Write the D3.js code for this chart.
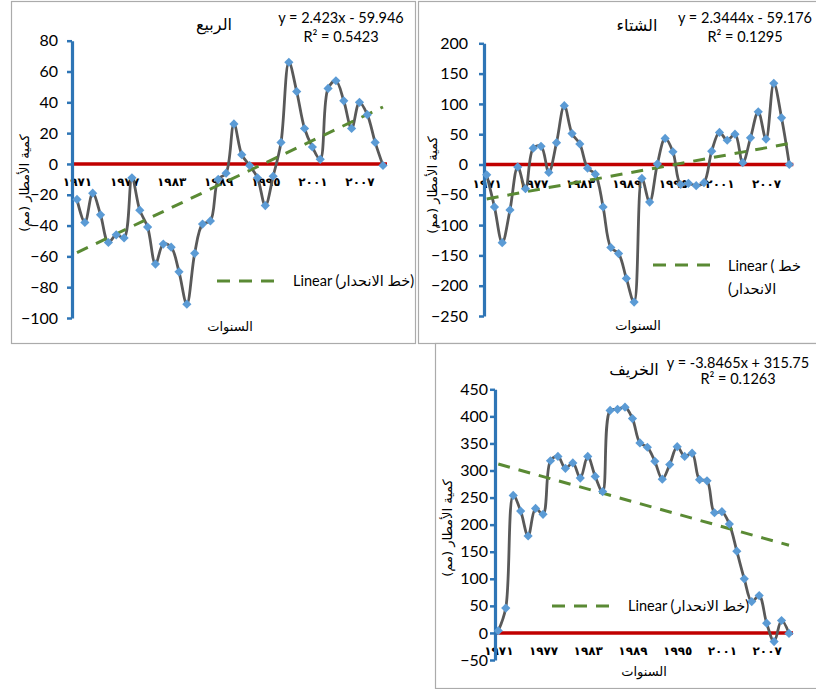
<!DOCTYPE html>
<html>
<head>
<meta charset="utf-8">
<script src="https://cdn.jsdelivr.net/npm/d3@7/dist/d3.min.js"></script>
<style>
  html, body { margin: 0; padding: 0; background: #fff; }
  svg { display: block; font-family: Lato, "DejaVu Sans", sans-serif; }
</style>
</head>
<body>
<svg id="chart" width="816" height="689"></svg>
<script>
// Years of record (x categories)
const years = [1971,1972,1973,1974,1975,1976,1977,1978,1979,1980,
               1981,1982,1983,1984,1985,1986,1987,1988,1989,1990,
               1991,1992,1993,1994,1995,1996,1997,1998,1999,2000,
               2001,2002,2003,2004,2005,2006,2007,2008,2009,2010];

// Rainfall anomaly per season (mm)
const springValues = [-23,-38,-19,-33,-51,-46,-48,-9,-30,-41,
                      -65,-52,-54,-70,-91,-58,-39,-37,-10,-6,
                      26,6,-1,-9,-27,-8,14,66,47,23,
                      11,3,49,54,41,23,40,32,14,-1];
const winterValues = [-17,-70,-129,-75,-4,-40,27,30,-13,36,
                      97,51,34,-6,-16,-70,-137,-147,-188,-227,
                      -23,-62,1,43,21,-33,-31,-35,-30,22,
                      53,40,50,3,44,87,42,134,77,0];
const autumnValues = [4,46,254,225,179,230,219,318,326,304,
                      314,286,326,289,261,411,413,417,396,351,
                      343,317,284,311,344,326,332,283,281,222,
                      224,201,151,100,58,69,18,-16,23,-1];

// Linear trend: [slope, intercept, R²]
const springTrend = [2.423, -59.946, 0.5423];
const winterTrend = [2.3444, -59.176, 0.1295];
const autumnTrend = [-3.8465, 315.75, 0.1263];

// Axis ticks
const springTicks = [-100,-80,-60,-40,-20,0,20,40,60,80];
const winterTicks = [-250,-200,-150,-100,-50,0,50,100,150,200];
const autumnTicks = [-50,0,50,100,150,200,250,300,350,400,450];
const xTickYears  = [1971,1977,1983,1989,1995,2001,2007];
const xTickLabels = ["١٩٧١","١٩٧٧","١٩٨٣","١٩٨٩","١٩٩٥","٢٠٠١","٢٠٠٧"];

// Text
const seasonTitles = ["الربيع","الشتاء","الخريف"];
const yTitle = "كمية الأمطار (مم)";
const xTitle = "السنوات";

const C = {
  line: "#595959", marker: "#5B9BD5", zero: "#C00000",
  axis: "#2E75B6", trend: "#5A8A34", frame: "#ABABAB", text: "#000"
};

const panels = [
  { values: springValues, trend: springTrend, ticks: springTicks, title: seasonTitles[0],
    frame: [11, 1, 404, 342], x0: 77, x1: 383, yRange: [318, 40.7], axisX: 72, tickPad: 9,
    xLabelY: 186, titleAt: [214, 30], eqAt: [341, 23, 41.5], xTitleAt: [230, 331], yTitleAt: [24, 183],
    legend: { x0: 217, x1: 275, y: 281, tx: 293, lines: [[0, "Linear (خط الانحدار)"]] } },
  { values: winterValues, trend: winterTrend, ticks: winterTicks, title: seasonTitles[1],
    frame: [418, 1, 400, 342], x0: 486.7, x1: 789.3, yRange: [316, 43.3], axisX: 484, tickPad: 11,
    xLabelY: 188, titleAt: [637, 31], eqAt: [745, 23, 41.5], xTitleAt: [638, 330], yTitleAt: [432, 185],
    legend: { x0: 653, x1: 710, y: 265, tx: 728, lines: [[271, "Linear ( خط"], [294, "(الانحدار"]] } },
  { values: autumnValues, trend: autumnTrend, ticks: autumnTicks, title: seasonTitles[2],
    frame: [435, 343, 383, 345], x0: 498.3, x1: 789, yRange: [660, 389.3], axisX: 495, tickPad: 2,
    xLabelY: 655, titleAt: [634, 375], eqAt: [738, 367.5, 384], xTitleAt: [644, 676], yTitleAt: [447, 528],
    legend: { x0: 552, x1: 610, y: 606, tx: 628, lines: [[0, "Linear (خط الانحدار)"]] } }
];

const svg = d3.select("#chart");
const diamond = r => `M0,${-r}L${r},0L0,${r}L${-r},0Z`;

function fmtEq(t) {
  const sign = t[1] < 0 ? " - " : " + ";
  return `y = ${t[0]}x${sign}${Math.abs(t[1])}`;
}

panels.forEach(p => {
  const g = svg.append("g");
  const n = p.values.length;
  const x = d3.scaleLinear().domain([1, n]).range([p.x0, p.x1]);
  const xYear = d3.scaleLinear().domain([years[0], years[n - 1]]).range([p.x0, p.x1]);
  const yMin = d3.min(p.ticks), yMax = d3.max(p.ticks);
  const y = d3.scaleLinear().domain([yMin, yMax]).range(p.yRange);

  // Chart frame
  g.append("rect")
    .attr("x", p.frame[0] + 0.5).attr("y", p.frame[1] + 0.5)
    .attr("width", p.frame[2]).attr("height", p.frame[3])
    .attr("fill", "#fff").attr("stroke", C.frame).attr("stroke-width", 1.2);

  // Category labels, placed just under the zero line
  const xAxis = d3.axisBottom(xYear).tickValues(xTickYears)
    .tickFormat((d, i) => xTickLabels[i]).tickSize(0).tickPadding(0);
  const xg = g.append("g").attr("transform", `translate(0,${p.xLabelY})`).call(xAxis);
  xg.select(".domain").remove();
  xg.selectAll("text")
    .attr("dy", 0)
    .attr("font-family", "'DejaVu Sans', sans-serif")
    .attr("font-size", 12).attr("font-weight", "bold").attr("fill", C.text);

  // Zero reference line
  g.append("line")
    .attr("x1", p.axisX).attr("x2", p.x1 + 4)
    .attr("y1", y(0)).attr("y2", y(0))
    .attr("stroke", C.zero).attr("stroke-width", 3.5);

  // Value axis
  const yAxis = d3.axisLeft(y).tickValues(p.ticks).tickSize(5).tickSizeOuter(0).tickPadding(p.tickPad);
  const yg = g.append("g").attr("transform", `translate(${p.axisX},0)`).call(yAxis);
  yg.select(".domain").attr("stroke", C.axis).attr("stroke-width", 3.2);
  yg.selectAll(".tick line").attr("stroke", C.axis).attr("stroke-width", 2.5);
  yg.selectAll(".tick text").attr("font-family", "Lato, sans-serif")
    .attr("font-size", 16).attr("fill", C.text);

  // Smoothed series line
  const pts = p.values.map((v, i) => [i + 1, v]);
  g.append("path").datum(pts)
    .attr("d", d3.line().x(d => x(d[0])).y(d => y(d[1])).curve(d3.curveCatmullRom.alpha(0.5)))
    .attr("fill", "none").attr("stroke", C.line).attr("stroke-width", 2.8);

  // Linear trend line
  const tr = [1, n].map(i => [i, p.trend[0] * i + p.trend[1]]);
  g.append("path").datum(tr)
    .attr("d", d3.line().x(d => x(d[0])).y(d => y(d[1])))
    .attr("fill", "none").attr("stroke", C.trend).attr("stroke-width", 3)
    .attr("stroke-dasharray", "12,9");

  // Markers
  g.selectAll("path.mk").data(pts).enter().append("path")
    .attr("class", "mk")
    .attr("transform", d => `translate(${x(d[0])},${y(d[1])})`)
    .attr("d", diamond(4.6)).attr("fill", C.marker);

  // Season title
  g.append("text").attr("x", p.titleAt[0]).attr("y", p.titleAt[1])
    .attr("text-anchor", "middle").attr("direction", "rtl")
    .attr("font-family", "'DejaVu Sans', sans-serif").attr("font-size", 16)
    .attr("fill", C.text).text(p.title);

  // Trend equation and R²
  g.append("text").attr("x", p.eqAt[0]).attr("y", p.eqAt[1])
    .attr("text-anchor", "middle").attr("font-size", 14.5).attr("fill", C.text)
    .text(fmtEq(p.trend));
  g.append("text").attr("x", p.eqAt[0]).attr("y", p.eqAt[2])
    .attr("text-anchor", "middle").attr("font-size", 14.5).attr("fill", C.text)
    .text(`R² = ${p.trend[2]}`);

  // Axis titles
  g.append("text").attr("x", p.xTitleAt[0]).attr("y", p.xTitleAt[1])
    .attr("text-anchor", "middle").attr("direction", "rtl")
    .attr("font-family", "'DejaVu Sans', sans-serif").attr("font-size", 13)
    .attr("fill", C.text).text(xTitle);
  g.append("text")
    .attr("transform", `translate(${p.yTitleAt[0]},${p.yTitleAt[1]}) rotate(-90)`)
    .attr("text-anchor", "middle").attr("dy", "0.35em").attr("direction", "rtl")
    .attr("font-family", "'DejaVu Sans', sans-serif").attr("font-size", 13)
    .attr("fill", C.text).text(yTitle);

  // Legend
  const L = p.legend;
  g.append("line").attr("x1", L.x0).attr("x2", L.x1).attr("y1", L.y).attr("y2", L.y)
    .attr("stroke", C.trend).attr("stroke-width", 3).attr("stroke-dasharray", "13,9");
  L.lines.forEach(([by, s]) => {
    g.append("text").attr("x", L.tx).attr("y", by || L.y).attr("dy", by ? 0 : "0.35em")
      .attr("font-size", 14.5).attr("fill", C.text).text(s);
  });
});
</script>
</body>
</html>
